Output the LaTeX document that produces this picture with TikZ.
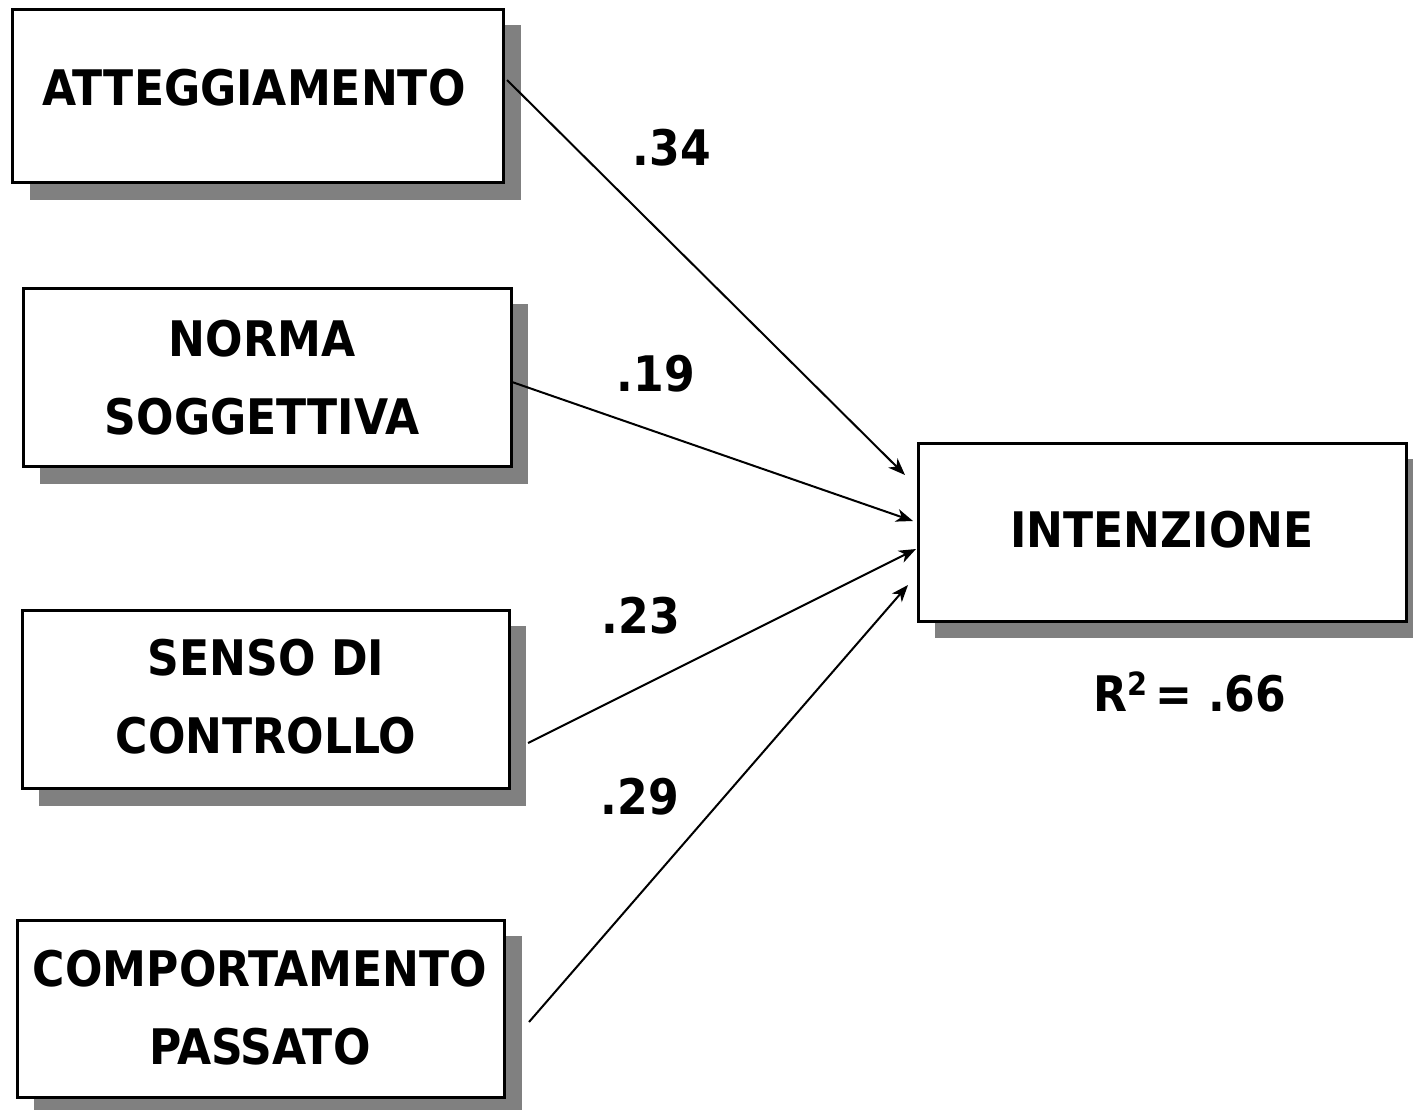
\documentclass[tikz,border=0pt]{standalone}
\usepackage{fontspec}
\setmainfont{DejaVu Sans Condensed}
\usetikzlibrary{arrows.meta}
\begin{document}
\begin{tikzpicture}[x=1pt,y=-1pt,
  box/.style={draw=black,line width=3pt,fill=white},
  shadowbox/.style={fill=black!50,draw=none},
  lbl/.style={font=\fontsize{49}{57}\selectfont\bfseries,align=center,inner sep=0pt},
  coef/.style={font=\fontsize{49}{57}\selectfont\bfseries,inner sep=0pt},
  arr/.style={line width=2pt,-{Stealth[length=17pt,width=13pt,inset=5pt]}}]
\useasboundingbox (0,0) rectangle (1413,1110);
% shadows
\fill[shadowbox] (30,25) rectangle (521,200);
\fill[shadowbox] (40,304) rectangle (528,484);
\fill[shadowbox] (39,626) rectangle (526,806);
\fill[shadowbox] (34,936) rectangle (522,1110);
\fill[shadowbox] (935,459) rectangle (1413,638);
% boxes
\draw[box] (12,10) rectangle (503,183);
\draw[box] (23,288) rectangle (511,466);
\draw[box] (22,610) rectangle (509,788);
\draw[box] (17,920) rectangle (504,1097);
\draw[box] (918,443) rectangle (1406,621);
% labels
\node[lbl] (att) at (254,88) {ATTEGGIAMENTO};
\node[lbl] (norm) at (262,378) {NORMA\\[21pt]SOGGETTIVA};
\node[lbl] (senso) at (266,697) {SENSO DI\\[21pt]CONTROLLO};
\node[lbl] (comp) at (260,1008) {COMPORTAMENTO\\[21pt]PASSATO};
\node[lbl] (int) at (1162,530) {INTENZIONE};
% connector endpoints
\coordinate (a1) at (507,80);
\coordinate (b1) at (905,475);
\coordinate (a2) at (512,382);
\coordinate (b2) at (913,521);
\coordinate (a3) at (528,743);
\coordinate (b3) at (916,549);
\coordinate (a4) at (529,1022);
\coordinate (b4) at (908,585);
\draw[arr] (a1) -- (b1);
\draw[arr] (a2) -- (b2);
\draw[arr] (a3) -- (b3);
\draw[arr] (a4) -- (b4);
% coefficients
\node[coef] (c1) at (672,148) {.34};
\node[coef] (c2) at (656,374) {.19};
\node[coef] (c3) at (641,616) {.23};
\node[coef] (c4) at (640,797) {.29};
\node[coef] (r2) at (1190,692) {R\raisebox{16pt}{\fontsize{32}{36}\selectfont 2}\,= .66};
\end{tikzpicture}
\end{document}
